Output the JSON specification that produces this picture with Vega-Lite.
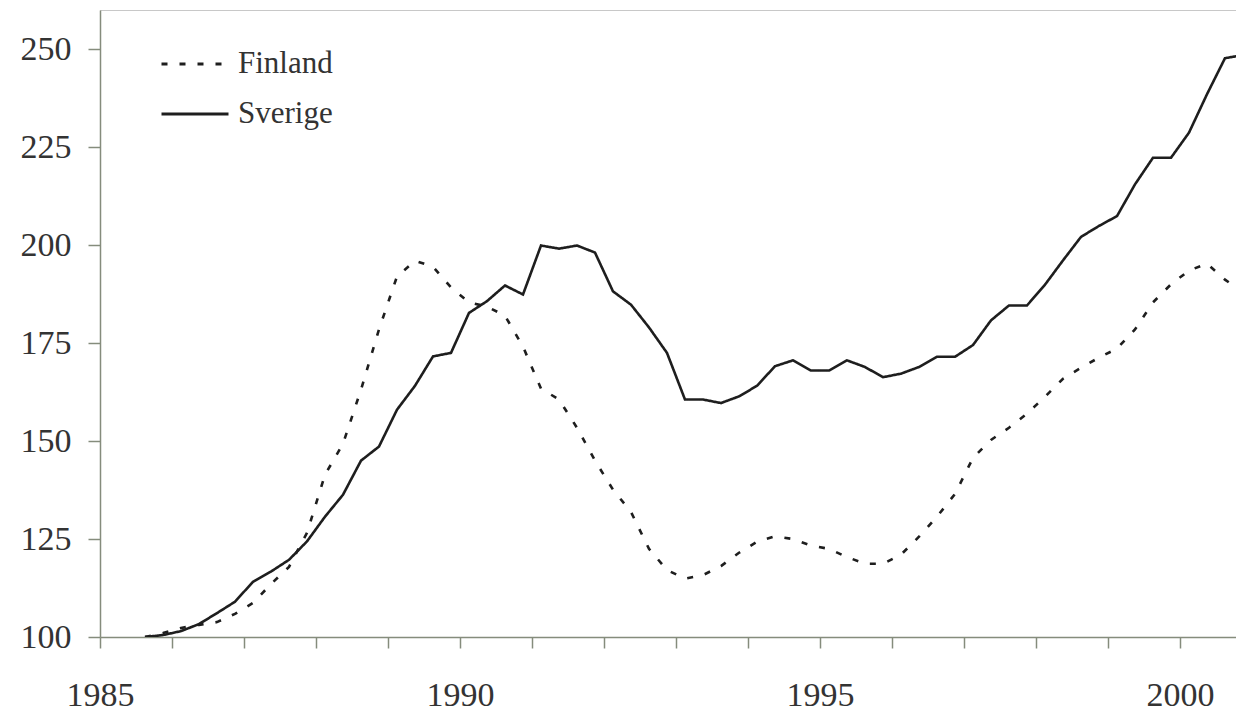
{
  "$schema": "https://vega.github.io/schema/vega-lite/v6.json",
  "width": 1136,
  "height": 627,
  "autosize": "none",
  "padding": {"left": 100, "top": 10, "right": 0, "bottom": 81},
  "background": "white",
  "config": {
    "view": {"stroke": "#c8c8c8", "strokeWidth": 1},
    "font": "Liberation Serif"
  },
  "data": {
    "values": [
      {"t": 1985.625, "Finland": 100, "Sverige": 100},
      {"t": 1985.875, "Finland": 101, "Sverige": 100.5},
      {"t": 1986.125, "Finland": 102.3, "Sverige": 101.5},
      {"t": 1986.375, "Finland": 103.1, "Sverige": 103.3},
      {"t": 1986.625, "Finland": 103.8, "Sverige": 106.1},
      {"t": 1986.875, "Finland": 105.9, "Sverige": 109.0},
      {"t": 1987.125, "Finland": 108.7, "Sverige": 114.1},
      {"t": 1987.375, "Finland": 113.5, "Sverige": 116.7},
      {"t": 1987.625, "Finland": 117.9, "Sverige": 119.7},
      {"t": 1987.875, "Finland": 126.6, "Sverige": 124.4},
      {"t": 1988.125, "Finland": 141.4, "Sverige": 130.7},
      {"t": 1988.375, "Finland": 149.3, "Sverige": 136.3},
      {"t": 1988.625, "Finland": 163.1, "Sverige": 145.0},
      {"t": 1988.875, "Finland": 178.5, "Sverige": 148.6},
      {"t": 1989.125, "Finland": 192.0, "Sverige": 158.0},
      {"t": 1989.375, "Finland": 196.0, "Sverige": 164.1},
      {"t": 1989.625, "Finland": 194.5, "Sverige": 171.6},
      {"t": 1989.875, "Finland": 189.2, "Sverige": 172.5},
      {"t": 1990.125, "Finland": 185.4, "Sverige": 182.7},
      {"t": 1990.375, "Finland": 184.3, "Sverige": 185.7},
      {"t": 1990.625, "Finland": 182.0, "Sverige": 189.7},
      {"t": 1990.875, "Finland": 174.1, "Sverige": 187.4},
      {"t": 1991.125, "Finland": 163.4, "Sverige": 199.9},
      {"t": 1991.375, "Finland": 160.6, "Sverige": 199.1},
      {"t": 1991.625, "Finland": 153.4, "Sverige": 199.9},
      {"t": 1991.875, "Finland": 145.0, "Sverige": 198.1},
      {"t": 1992.125, "Finland": 137.6, "Sverige": 188.2},
      {"t": 1992.375, "Finland": 131.9, "Sverige": 184.8},
      {"t": 1992.625, "Finland": 122.5, "Sverige": 179.0},
      {"t": 1992.875, "Finland": 117.1, "Sverige": 172.5},
      {"t": 1993.125, "Finland": 114.9, "Sverige": 160.6},
      {"t": 1993.375, "Finland": 115.8, "Sverige": 160.6},
      {"t": 1993.625, "Finland": 118.1, "Sverige": 159.7},
      {"t": 1993.875, "Finland": 121.5, "Sverige": 161.4},
      {"t": 1994.125, "Finland": 124.3, "Sverige": 164.1},
      {"t": 1994.375, "Finland": 125.7, "Sverige": 169.1},
      {"t": 1994.625, "Finland": 125.0, "Sverige": 170.6},
      {"t": 1994.875, "Finland": 123.3, "Sverige": 168.0},
      {"t": 1995.125, "Finland": 122.5, "Sverige": 168.0},
      {"t": 1995.375, "Finland": 120.4, "Sverige": 170.6},
      {"t": 1995.625, "Finland": 118.7, "Sverige": 168.9},
      {"t": 1995.875, "Finland": 118.7, "Sverige": 166.3},
      {"t": 1996.125, "Finland": 121.0, "Sverige": 167.2},
      {"t": 1996.375, "Finland": 125.6, "Sverige": 168.9},
      {"t": 1996.625, "Finland": 130.7, "Sverige": 171.5},
      {"t": 1996.875, "Finland": 136.5, "Sverige": 171.5},
      {"t": 1997.125, "Finland": 145.7, "Sverige": 174.5},
      {"t": 1997.375, "Finland": 150.3, "Sverige": 180.8},
      {"t": 1997.625, "Finland": 153.4, "Sverige": 184.6},
      {"t": 1997.875, "Finland": 157.0, "Sverige": 184.6},
      {"t": 1998.125, "Finland": 161.3, "Sverige": 189.9},
      {"t": 1998.375, "Finland": 165.9, "Sverige": 196.1},
      {"t": 1998.625, "Finland": 168.7, "Sverige": 202.1},
      {"t": 1998.875, "Finland": 171.3, "Sverige": 204.9},
      {"t": 1999.125, "Finland": 173.6, "Sverige": 207.4},
      {"t": 1999.375, "Finland": 178.5, "Sverige": 215.5},
      {"t": 1999.625, "Finland": 185.4, "Sverige": 222.3},
      {"t": 1999.875, "Finland": 190.0, "Sverige": 222.3},
      {"t": 2000.125, "Finland": 193.5, "Sverige": 228.7},
      {"t": 2000.375, "Finland": 195.3, "Sverige": 238.5},
      {"t": 2000.625, "Finland": 191.2, "Sverige": 247.7},
      {"t": 2000.875, "Finland": 187.9, "Sverige": 248.5}
    ]
  },
  "transform": [{"fold": ["Finland", "Sverige"], "as": ["country", "index"]}],
  "mark": {"type": "line", "clip": true, "strokeWidth": 2.6, "color": "#1e1e1e"},
  "encoding": {
    "x": {
      "field": "t",
      "type": "quantitative",
      "scale": {"domain": [1985, 2000.778], "nice": false, "zero": false},
      "axis": {
        "title": null,
        "values": [1985, 1986, 1987, 1988, 1989, 1990, 1991, 1992, 1993, 1994, 1995, 1996, 1997, 1998, 1999, 2000],
        "labelExpr": "datum.value % 5 == 0 ? datum.value : ''",
        "grid": false,
        "domainColor": "#858c7c",
        "domainWidth": 1.5,
        "tickColor": "#858c7c",
        "tickWidth": 1.5,
        "tickSize": 11,
        "labelPadding": 30,
        "labelFont": "Liberation Serif",
        "labelFontSize": 34,
        "labelColor": "#333333",
        "labelOverlap": false,
        "labelFlush": false,
        "labelBound": false
      }
    },
    "y": {
      "field": "index",
      "type": "quantitative",
      "scale": {"domain": [100, 260], "nice": false, "zero": false},
      "axis": {
        "title": null,
        "values": [100, 125, 150, 175, 200, 225, 250],
        "grid": false,
        "domainColor": "#858c7c",
        "domainWidth": 1.5,
        "tickColor": "#858c7c",
        "tickWidth": 1.5,
        "tickSize": 12,
        "labelPadding": 17,
        "labelFont": "Liberation Serif",
        "labelFontSize": 34,
        "labelColor": "#333333",
        "labelOverlap": false
      }
    },
    "strokeDash": {
      "field": "country",
      "type": "nominal",
      "scale": {"domain": ["Finland", "Sverige"], "range": [[6, 12], [1, 0]]},
      "legend": {
        "title": null,
        "orient": "none",
        "legendX": 60,
        "legendY": 19,
        "padding": 0,
        "symbolType": "stroke",
        "symbolSize": 4489,
        "symbolStrokeWidth": 3,
        "symbolStrokeColor": "#1e1e1e",
        "rowPadding": -18,
        "labelOffset": 8,
        "labelFont": "Liberation Serif",
        "labelFontSize": 31,
        "labelColor": "#333333"
      }
    }
  }
}
